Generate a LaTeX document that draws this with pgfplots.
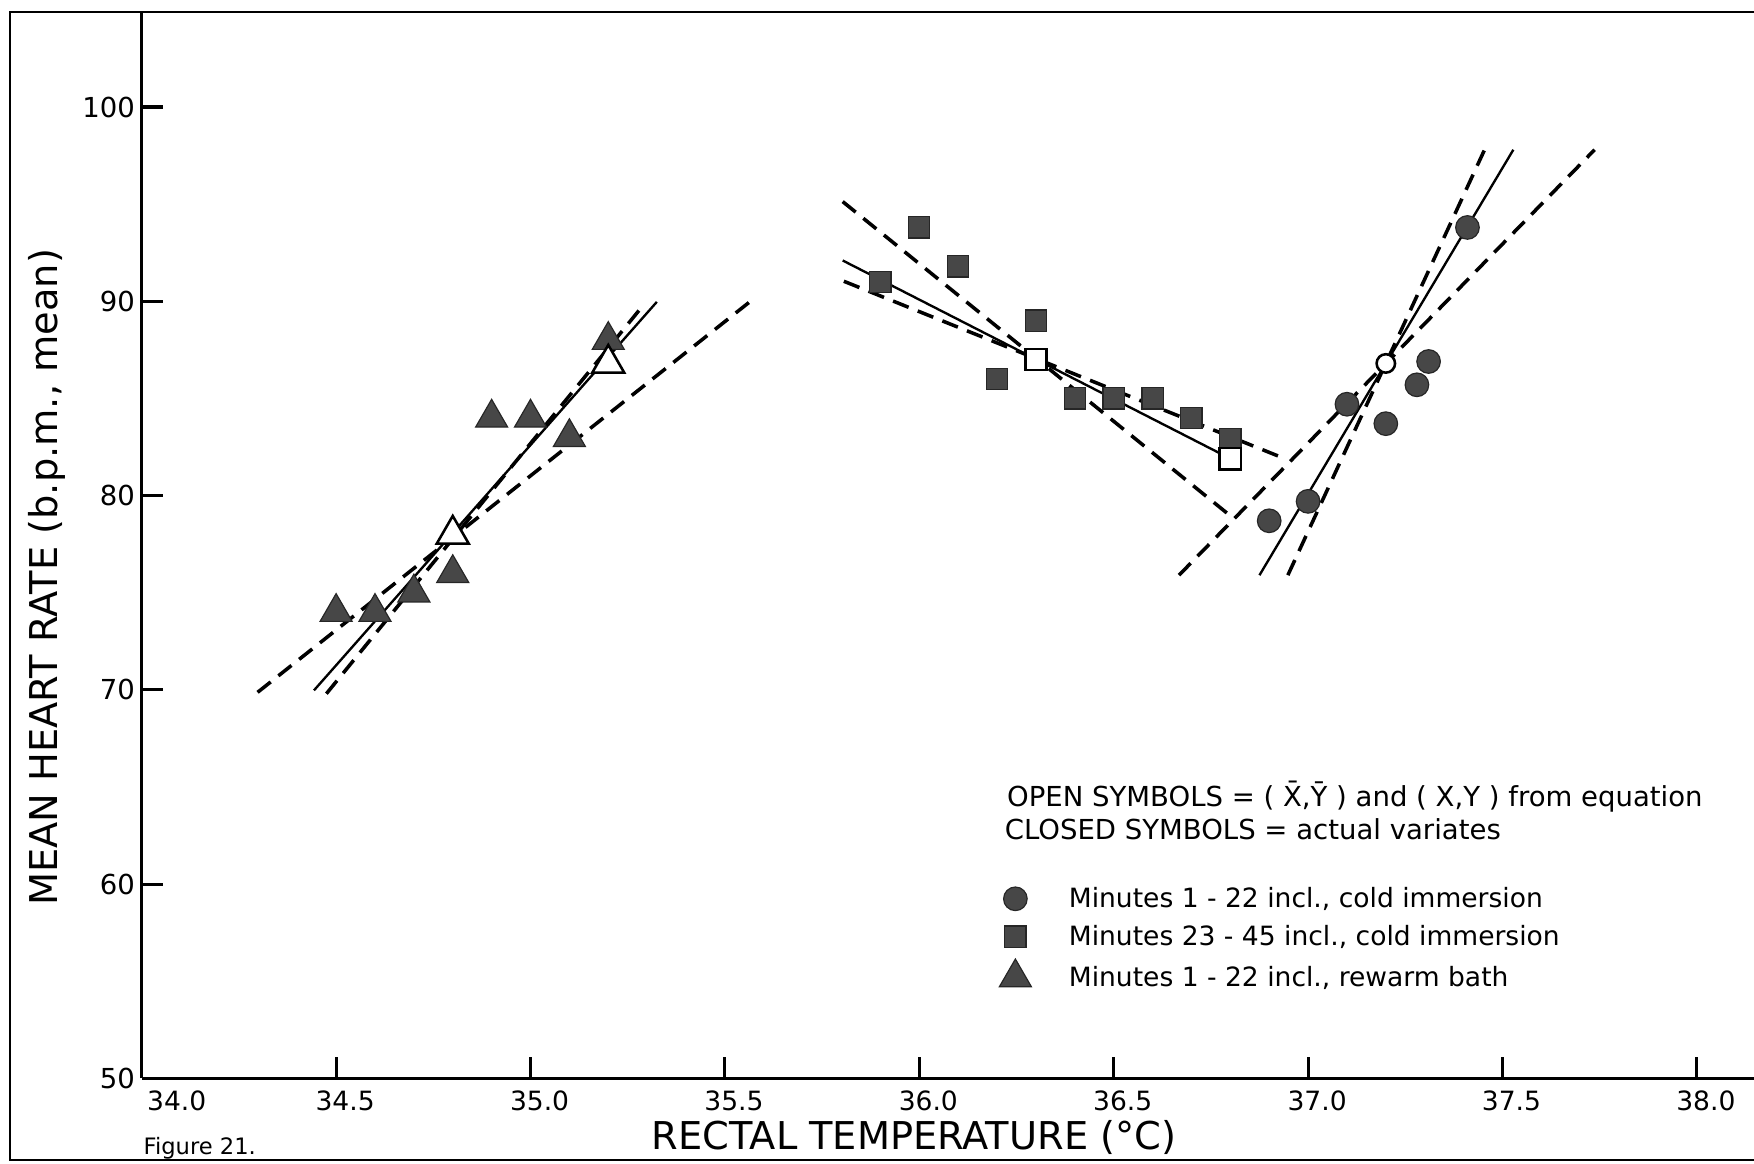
\documentclass[border=0pt]{standalone}
\usepackage{fontspec}
\setmainfont{DejaVu Sans}
\usepackage{pgfplots}
\pgfplotsset{compat=1.18}
\begin{document}
\begin{tikzpicture}
\begin{axis}[
  name=ax, at={(0,0)}, anchor=south west,
  scale only axis, width=28.826cm, height=19.06cm,
  xmin=34, xmax=38.147, ymin=50, ymax=104.875,
  clip=false,
  axis lines=left,
  axis line style={-, line width=1.6pt},
  tick align=inside,
  major tick length=11pt,
  every tick/.style={black, line width=1.6pt},
  /pgf/number format/assume math mode=true,
  xtick={34.5,35,35.5,36,36.5,37,37.5,38},
  xticklabel={\pgfmathprintnumber[fixed,fixed zerofill,precision=1]{\tick}},
  xticklabel style={font=\fontsize{13.5}{16}\selectfont, xshift=4.6pt, yshift=-3pt},
  extra x ticks={34},
  extra x tick style={major tick length=0pt, xticklabel style={xshift=13.2pt}},
  ytick={50,60,70,80,90,100},
  yticklabel style={font=\fontsize{14}{16}\selectfont},
  xlabel={RECTAL TEMPERATURE (°C)},
  xlabel style={at={(axis description cs:0.479,-0.0672)}, anchor=base, font=\fontsize{19.5}{22}\selectfont},
  ylabel={MEAN HEART RATE (b.p.m., mean)},
  ylabel style={at={(axis description cs:-0.0523,0.470)}, anchor=base, font=\fontsize{19.5}{22}\selectfont},
  legend style={at={(axis cs:36.205,60.06)}, anchor=north west, draw=none, fill=none,
    inner sep=0pt, font=\fontsize{13.5}{16}\selectfont, row sep=3.5pt,
    /tikz/every odd column/.append style={column sep=0.6cm}},
  legend cell align=left,
  solidfit/.style={black, line width=1.2pt, forget plot},
  dashfit/.style={black, line width=1.8pt, dash pattern=on 8.5pt off 5pt, forget plot},
  filledmk/.style={only marks, mark options={draw=black!85, fill=black!72, line width=0.6pt}},
  openmk/.style={only marks, forget plot, mark options={draw=black, fill=white, line width=1.3pt}},
]
% rewarm bath fit lines
\addplot[solidfit] coordinates {(34.443,69.97) (35.325,89.97)};
\addplot[dashfit] coordinates {(34.475,69.8) (35.293,89.87)};
\addplot[dashfit] coordinates {(34.298,69.87) (35.562,89.94)};
% minutes 23-45 fit lines
\addplot[solidfit] coordinates {(35.803,92.1) (36.8,81.9)};
\addplot[dashfit] coordinates {(35.806,91.03) (36.93,81.98)};
\addplot[dashfit] coordinates {(35.803,95.13) (36.798,78.99)};
% minutes 1-22 cold fit lines
\addplot[solidfit] coordinates {(36.875,75.9) (37.528,97.8)};
\addplot[dashfit] coordinates {(36.948,75.9) (37.454,97.8)};
\addplot[dashfit] coordinates {(36.668,75.9) (37.737,97.8)};

% closed symbols
\addplot[filledmk, mark=*, mark size=6pt] coordinates {
(36.9,78.7) (37.0,79.7) (37.1,84.7) (37.2,83.7) (37.28,85.7) (37.31,86.9) (37.41,93.8)};
\addlegendentry{Minutes 1 - 22 incl., cold immersion}
\addplot[filledmk, mark=square*, mark size=5.4pt] coordinates {
(35.9,91) (36.0,93.8) (36.1,91.8) (36.2,86) (36.3,89) (36.4,85) (36.5,85) (36.6,85) (36.7,84) (36.8,82.9)};
\addlegendentry{Minutes 23 - 45 incl., cold immersion}
\addplot[filledmk, mark=triangle*, mark size=9.4pt] coordinates {
(34.5,74) (34.6,74) (34.7,75) (34.8,76) (34.9,84) (35.0,84) (35.1,83) (35.2,88)};
\addlegendentry{Minutes 1 - 22 incl., rewarm bath}

% open symbols
\addplot[openmk, mark=triangle*, mark size=9.4pt] coordinates {(34.8,78) (35.2,86.8)};
\addplot[openmk, mark=square*, mark size=5.4pt] coordinates {(36.3,87) (36.8,81.9)};
\addplot[openmk, mark=*, mark size=4.7pt] coordinates {(37.2,86.8)};

\node[anchor=base west, inner sep=0pt, font=\fontsize{14}{16}\selectfont] at (axis cs:36.225,64.01)
  {OPEN SYMBOLS = ( \={X},\={Y} ) and ( X,Y ) from equation};
\node[anchor=base west, inner sep=0pt, font=\fontsize{14}{16}\selectfont] at (axis cs:36.219,62.28)
  {CLOSED SYMBOLS = actual variates};
\node[anchor=base west, inner sep=0pt, font=\fontsize{11.5}{14}\selectfont] at (axis cs:34.004,46.1)
  {Figure 21.};
\end{axis}
\draw[line width=1.2pt] ([xshift=0.5cm]ax.north east) -- ([xshift=-2.358cm]ax.north west)
  -- ([xshift=-2.358cm,yshift=-1.46cm]ax.south west) -- ([xshift=0.5cm,yshift=-1.46cm]ax.south east);
\pgfresetboundingbox
\useasboundingbox ([xshift=-2.534cm,yshift=-1.52cm]ax.south west) rectangle ([yshift=0.22cm]ax.north east);
\end{tikzpicture}
\end{document}
